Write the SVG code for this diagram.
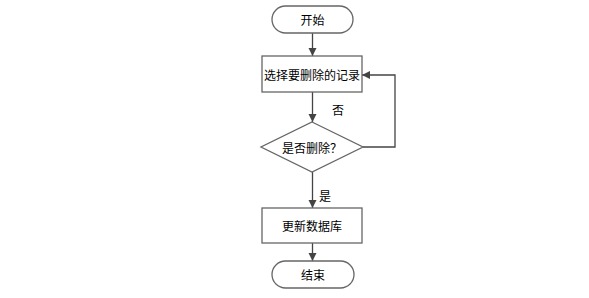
<svg xmlns="http://www.w3.org/2000/svg" width="589" height="298" viewBox="0 0 589 298">
<style>
.shape{fill:#fff;stroke:#666;stroke-width:1.3}
.edge{fill:none;stroke:#444;stroke-width:1.3}
text{font-family:"Noto Sans CJK SC","Liberation Sans",sans-serif;font-size:12px;fill:#000;text-anchor:middle;dominant-baseline:central}
</style>
<defs>
<marker id="arr" markerWidth="10" markerHeight="10" refX="9" refY="5" orient="auto" markerUnits="userSpaceOnUse">
<path d="M1,1 L9,5 L1,9 Z" fill="#444"/>
</marker>
</defs>
<rect width="589" height="298" fill="#fff"/>
<g id="connectors">
<line class="edge" x1="312.5" y1="33" x2="312.5" y2="56" marker-end="url(#arr)"/>
<line class="edge" x1="312.5" y1="92" x2="312.5" y2="122" marker-end="url(#arr)"/>
<line class="edge" x1="312.5" y1="172" x2="312.5" y2="208" marker-end="url(#arr)"/>
<line class="edge" x1="312.5" y1="243" x2="312.5" y2="261" marker-end="url(#arr)"/>
<polyline class="edge" points="363,147 395,147 395,75 362,75" marker-end="url(#arr)"/>
<text x="338" y="109">否</text>
<text x="325" y="195">是</text>
</g>
<g id="start">
<rect class="shape" x="272" y="6" width="81" height="27" rx="13.5"/>
<text x="312.5" y="19.5">开始</text>
</g>
<g id="select">
<rect class="shape" x="262" y="56" width="100" height="36"/>
<text x="312" y="74">选择要删除的记录</text>
</g>
<g id="decide">
<polygon class="shape" points="312,122 363,147 312,172 261,147"/>
<text x="312" y="147">是否删除？</text>
</g>
<g id="update">
<rect class="shape" x="262" y="208" width="100" height="35"/>
<text x="312" y="225.5">更新数据库</text>
</g>
<g id="end">
<rect class="shape" x="272" y="261" width="82" height="27" rx="13.5"/>
<text x="313" y="274.5">结束</text>
</g>
</svg>
